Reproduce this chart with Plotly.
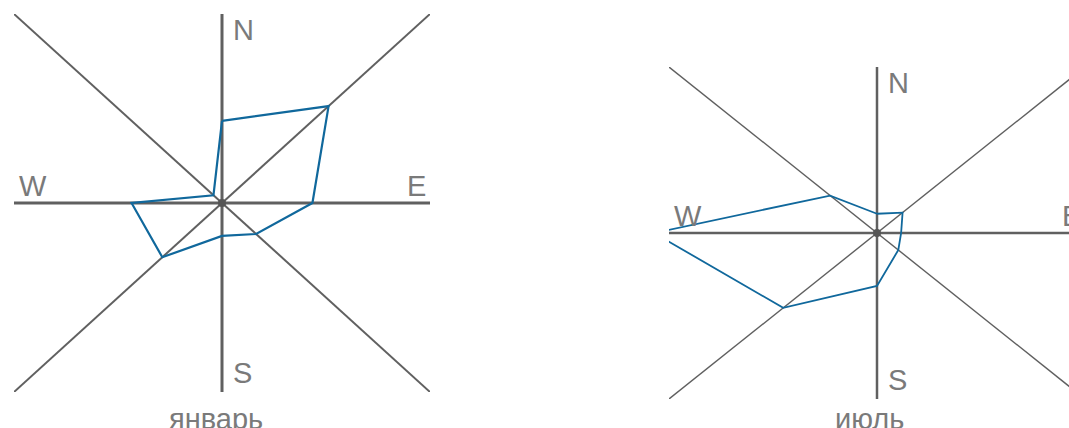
"""
Розы ветров: январь и июль (повторяемость направлений ветра, %).
"""

import numpy as np
import plotly.graph_objects as go

# --- данные -------------------------------------------------------------
DIRECTIONS = ["N", "NE", "E", "SE", "S", "SW", "W", "NW"]
JANUARY = [15, 25, 15, 8, 6, 14, 15, 2]
JULY = [4, 6, 4, 5, 11, 22, 37, 11]
MONTHS = ["январь", "июль"]
R_MAX = 34.5

W, H = 1069, 428
AXIS = "#606060"
ROSE = "#10689c"
LABEL = "#7a7a7a"
FONT = "Liberation Sans, Arial, sans-serif"

# центр каждой розы (px), полуразмеры по x / y (px)
PANELS = [
    {"cx": 222, "cy": 203, "hx": 208, "hy": 189, "values": JANUARY, "month": MONTHS[0],
     "axis_w": 3, "diag_w": 2, "rose_w": 2.2, "title_x": 216},
    {"cx": 877, "cy": 233, "hx": 208, "hy": 166, "values": JULY, "month": MONTHS[1],
     "axis_w": 2.5, "diag_w": 1.4, "rose_w": 1.8, "title_x": 869},
]


def rose_xy(values):
    ang = np.deg2rad(np.arange(len(values)) * 45.0)
    r = np.array(values, dtype=float)
    x = r * np.sin(ang)
    y = r * np.cos(ang)
    return np.append(x, x[0]), np.append(y, y[0])


fig = go.Figure()
annotations = []

for i, p in enumerate(PANELS, start=1):
    xa = "x" if i == 1 else f"x{i}"
    ya = "y" if i == 1 else f"y{i}"
    R = R_MAX
    cx, cy = p["cx"], p["cy"]

    # домены в долях фигуры; правая роза обрезана краем
    left = (cx - p["hx"]) / W
    right = min(1.0, (cx + p["hx"]) / W)
    x_hi = R * (right * W - cx) / p["hx"]
    cy_b = H - cy
    bottom = (cy_b - p["hy"]) / H
    top = (cy_b + p["hy"]) / H

    fig.update_layout({
        f"xaxis{'' if i == 1 else i}": dict(domain=[left, right], range=[-R, x_hi],
                                             visible=False, anchor=ya, fixedrange=True),
        f"yaxis{'' if i == 1 else i}": dict(domain=[bottom, top], range=[-R, R],
                                             visible=False, anchor=xa, fixedrange=True),
    })

    # диагонали
    for sx, sy in [([-R, R], [R, -R]), ([-R, R], [-R, R])]:
        fig.add_trace(go.Scatter(x=sx, y=sy, mode="lines", xaxis=xa, yaxis=ya,
                                 line=dict(color=AXIS, width=p["diag_w"]),
                                 hoverinfo="skip"))
    # оси N-S и W-E
    fig.add_trace(go.Scatter(x=[0, 0], y=[-R, R], mode="lines", xaxis=xa, yaxis=ya,
                             line=dict(color=AXIS, width=p["axis_w"]), hoverinfo="skip"))
    fig.add_trace(go.Scatter(x=[-R, R], y=[0, 0], mode="lines", xaxis=xa, yaxis=ya,
                             line=dict(color=AXIS, width=p["axis_w"]), hoverinfo="skip"))

    # роза
    rx, ry = rose_xy(p["values"])
    fig.add_trace(go.Scatter(x=rx, y=ry, mode="lines", xaxis=xa, yaxis=ya,
                             line=dict(color=ROSE, width=p["rose_w"]),
                             text=DIRECTIONS + [DIRECTIONS[0]],
                             customdata=p["values"] + [p["values"][0]],
                             hovertemplate="%{text}: %{customdata}%<extra></extra>"))
    # центр
    fig.add_trace(go.Scatter(x=[0], y=[0], mode="markers", xaxis=xa, yaxis=ya,
                             marker=dict(color="#555555", size=8), hoverinfo="skip"))

    # подписи сторон света
    lab = dict(xref=xa, yref=ya, showarrow=False,
               font=dict(family=FONT, size=29, color=LABEL))
    annotations += [
        dict(lab, text="N", x=0, y=R, xanchor="left", yanchor="top", xshift=9, yshift=2),
        dict(lab, text="S", x=0, y=-R, xanchor="left", yanchor="bottom", xshift=9, yshift=1),
        dict(lab, text="W", x=-R, y=0, xanchor="left", yanchor="bottom", xshift=3, yshift=-1),
        # E может лежать за краем оси, поэтому по x — в долях фигуры
        dict(lab, text="E", xref="paper", x=(cx + p["hx"]) / W, y=0,
             xanchor="right", yanchor="bottom", xshift=-2, yshift=-1),
    ]
    # подпись месяца (в оригинале обрезана нижним краем)
    annotations.append(dict(xref="paper", yref="paper", x=p["title_x"] / W, y=0,
                            xanchor="center", yanchor="bottom", yshift=-9,
                            text=p["month"], showarrow=False,
                            font=dict(family=FONT, size=29, color=LABEL)))

fig.update_layout(
    width=W, height=H,
    margin=dict(l=0, r=0, t=0, b=0),
    paper_bgcolor="white", plot_bgcolor="white",
    showlegend=False,
    annotations=annotations,
)

fig.write_html("out.html", config={"displayModeBar": False},
               default_width=f"{W}px", default_height=f"{H}px",
               post_script="document.body.style.margin='0';"
                           "document.body.style.overflow='hidden';")
